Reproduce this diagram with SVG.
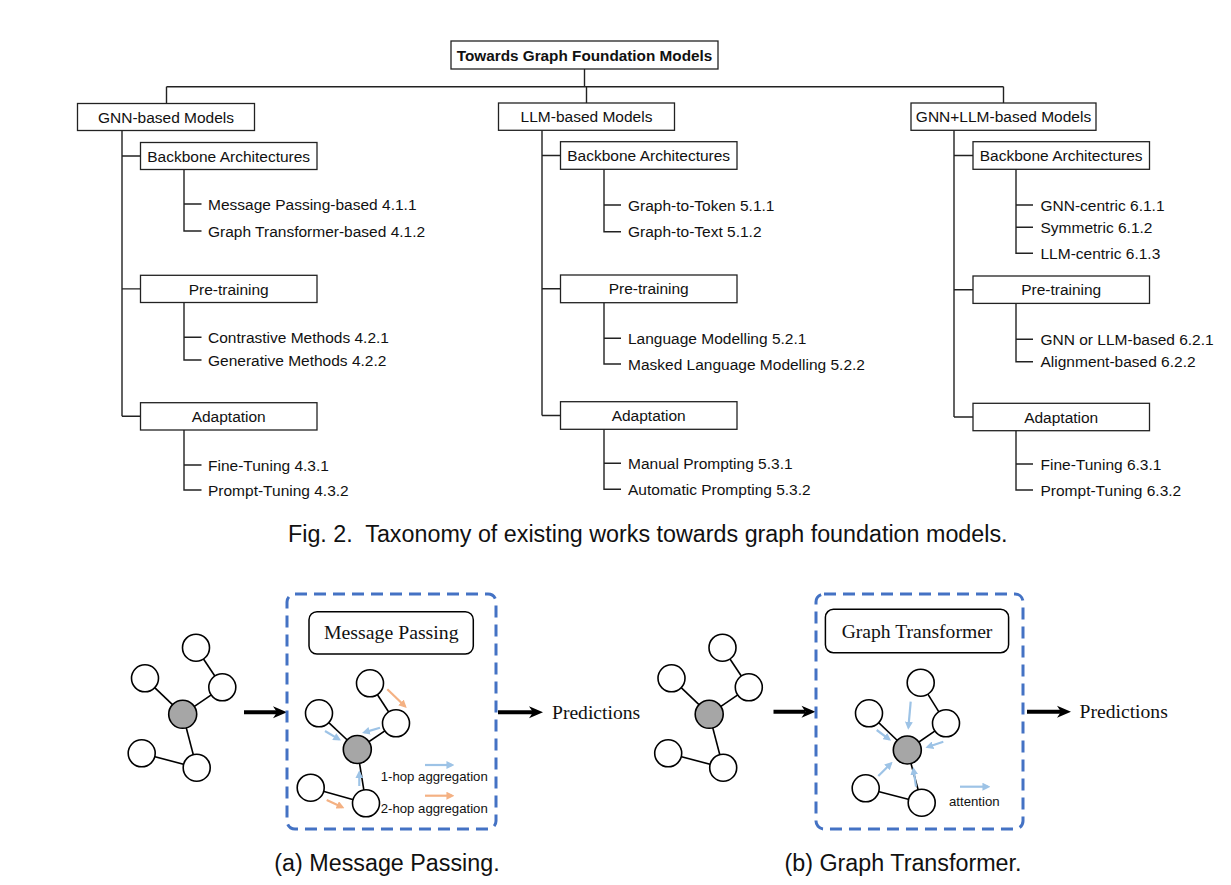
<svg xmlns="http://www.w3.org/2000/svg" width="1231" height="885" viewBox="0 0 1231 885">
<style>
.box{fill:#fff;stroke:#222;stroke-width:1.3}
.ln{fill:none;stroke:#222;stroke-width:1.4}
.t{font-family:"Liberation Sans",Arial,sans-serif;font-size:15.5px;fill:#111}
.c{text-anchor:middle}
.root{font-weight:bold;font-size:15.3px}
.cap{font-family:"Liberation Sans",Arial,sans-serif;font-size:23.3px;fill:#111}
.serif{font-family:"Liberation Serif","Times New Roman",serif;fill:#111}
.small{font-family:"Liberation Sans",Arial,sans-serif;font-size:13.2px;fill:#111}
.dash{fill:none;stroke:#4472C4;stroke-width:3;stroke-dasharray:12 7}
.node{fill:#fff;stroke:#000;stroke-width:1.6}
.hub{fill:#a6a6a6;stroke:#000;stroke-width:1.6}
.edge{stroke:#000;stroke-width:1.6}
.big{stroke:#000;stroke-width:4}
.blue{stroke:#9DC3E6;stroke-width:2.2;marker-end:url(#mb)}
.orange{stroke:#F4B183;stroke-width:2.2;marker-end:url(#mo)}
.tb{fill:#fff;stroke:#000;stroke-width:1.5}
</style>
<defs>
<marker id="mb" viewBox="0 0 10 10" refX="7" refY="5" markerWidth="3.6" markerHeight="3.6" orient="auto"><path d="M0,0 L10,5 L0,10 z" fill="#9DC3E6"/></marker>
<marker id="mo" viewBox="0 0 10 10" refX="7" refY="5" markerWidth="3.6" markerHeight="3.6" orient="auto"><path d="M0,0 L10,5 L0,10 z" fill="#F4B183"/></marker>
<path id="bighead" d="M0,0 L-14,-6 L-10,0 L-14,6 z" fill="#000"/>
</defs>
<rect width="1231" height="885" fill="#fff"/>

<!-- Taxonomy tree -->
<g id="connectors">
<path class="ln" d="M584.5,69 V86.7 M166.5,86.7 H1003.5 M166.5,86.7 V103.5 M586.5,86.7 V103 M1003.5,86.7 V103"/>
<!-- GNN column -->
<path class="ln" d="M122,130.5 V416.3 M122,156 H140.5 M122,288.9 H140.5 M122,416.3 H140.5"/>
<path class="ln" d="M184,169.5 V231 H201.5 M184,204 H201.5"/>
<path class="ln" d="M184,302.5 V360 H201.5 M184,337.3 H201.5"/>
<path class="ln" d="M184,430 V490 H201.5 M184,465 H201.5"/>
<!-- LLM column -->
<path class="ln" d="M542,130.3 V415.5 M542,155.5 H560.5 M542,288.8 H560.5 M542,415.5 H560.5"/>
<path class="ln" d="M604,169.3 V231.7 H621 M604,205 H621"/>
<path class="ln" d="M604,302.7 V364 H621 M604,338.3 H621"/>
<path class="ln" d="M604,429.3 V489.3 H621 M604,463.3 H621"/>
<!-- GNN+LLM column -->
<path class="ln" d="M954,130.3 V417 M954,155.5 H973 M954,289.7 H973 M954,417 H973"/>
<path class="ln" d="M1016,169.3 V253.3 H1033 M1016,205 H1033 M1016,227.3 H1033"/>
<path class="ln" d="M1016,303.4 V361.7 H1033 M1016,339.3 H1033"/>
<path class="ln" d="M1016,430.7 V490 H1033 M1016,464 H1033"/>
</g>

<g id="root">
<rect class="box" x="451" y="41" width="267" height="28"/>
<text class="t c root" x="584.5" y="60.5">Towards Graph Foundation Models</text>
</g>

<g id="gnn">
<rect class="box" x="77.5" y="103.5" width="177" height="27"/>
<text class="t c" x="166" y="122.5">GNN-based Models</text>
<rect class="box" x="140.5" y="142.5" width="176.5" height="27"/>
<text class="t c" x="228.7" y="161.5">Backbone Architectures</text>
<text class="t" x="208" y="209.7">Message Passing-based 4.1.1</text>
<text class="t" x="208" y="236.7">Graph Transformer-based 4.1.2</text>
<rect class="box" x="140.5" y="275.3" width="176.5" height="27.2"/>
<text class="t c" x="228.7" y="294.5">Pre-training</text>
<text class="t" x="208" y="343">Contrastive Methods 4.2.1</text>
<text class="t" x="208" y="365.7">Generative Methods 4.2.2</text>
<rect class="box" x="140.5" y="402.7" width="176.5" height="27.3"/>
<text class="t c" x="228.7" y="421.9">Adaptation</text>
<text class="t" x="208" y="470.7">Fine-Tuning 4.3.1</text>
<text class="t" x="208" y="495.7">Prompt-Tuning 4.3.2</text>
</g>

<g id="llm">
<rect class="box" x="498.5" y="103" width="176" height="27.3"/>
<text class="t c" x="586.5" y="122.3">LLM-based Models</text>
<rect class="box" x="560.5" y="141.7" width="176.5" height="27.6"/>
<text class="t c" x="648.7" y="161">Backbone Architectures</text>
<text class="t" x="628" y="210.7">Graph-to-Token 5.1.1</text>
<text class="t" x="628" y="237.4">Graph-to-Text 5.1.2</text>
<rect class="box" x="560.5" y="275" width="176.5" height="27.7"/>
<text class="t c" x="648.7" y="294.4">Pre-training</text>
<text class="t" x="628" y="344">Language Modelling 5.2.1</text>
<text class="t" x="628" y="369.7">Masked Language Modelling 5.2.2</text>
<rect class="box" x="560.5" y="401.7" width="176.5" height="27.6"/>
<text class="t c" x="648.7" y="421">Adaptation</text>
<text class="t" x="628" y="469">Manual Prompting 5.3.1</text>
<text class="t" x="628" y="495">Automatic Prompting 5.3.2</text>
</g>

<g id="gnnllm">
<rect class="box" x="911" y="103" width="185" height="27.3"/>
<text class="t c" x="1003.5" y="122.3">GNN+LLM-based Models</text>
<rect class="box" x="973" y="141.7" width="176.5" height="27.6"/>
<text class="t c" x="1061.2" y="161">Backbone Architectures</text>
<text class="t" x="1040.5" y="210.7">GNN-centric 6.1.1</text>
<text class="t" x="1040.5" y="233">Symmetric 6.1.2</text>
<text class="t" x="1040.5" y="259">LLM-centric 6.1.3</text>
<rect class="box" x="973" y="276" width="176.5" height="27.4"/>
<text class="t c" x="1061.2" y="295.3">Pre-training</text>
<text class="t" x="1040.5" y="345">GNN or LLM-based 6.2.1</text>
<text class="t" x="1040.5" y="367.4">Alignment-based 6.2.2</text>
<rect class="box" x="973" y="403.3" width="176.5" height="27.4"/>
<text class="t c" x="1061.2" y="422.6">Adaptation</text>
<text class="t" x="1040.5" y="469.7">Fine-Tuning 6.3.1</text>
<text class="t" x="1040.5" y="495.7">Prompt-Tuning 6.3.2</text>
</g>

<text class="cap" x="288" y="541.7" font-size="23.6">Fig. 2.&#160; Taxonomy of existing works towards graph foundation models.</text>

<!-- Panel (a) -->
<g id="panel-a">
<g id="a-input">
<line class="edge" x1="196" y1="647.7" x2="222.3" y2="687.3"/>
<line class="edge" x1="145" y1="678.3" x2="182.7" y2="714.3"/>
<line class="edge" x1="222.3" y1="687.3" x2="182.7" y2="714.3"/>
<line class="edge" x1="182.7" y1="714.3" x2="196.7" y2="767.7"/>
<line class="edge" x1="141.7" y1="753.3" x2="196.7" y2="767.7"/>
<circle class="node" cx="196" cy="647.7" r="13.5"/>
<circle class="node" cx="145" cy="678.3" r="13.5"/>
<circle class="node" cx="222.3" cy="687.3" r="13.5"/>
<circle class="hub" cx="182.7" cy="714.3" r="14"/>
<circle class="node" cx="141.7" cy="753.3" r="13.5"/>
<circle class="node" cx="196.7" cy="767.7" r="13.5"/>
</g>
<g id="a-arrow-in">
<line class="big" x1="244" y1="712.3" x2="277" y2="712.3"/>
<use href="#bighead" x="287" y="712.3"/>
</g>
<g id="a-box">
<rect class="dash" x="287" y="594" width="209" height="235" rx="8"/>
<rect class="tb" x="309" y="611.7" width="164.3" height="42.3" rx="8"/>
<text class="serif c" x="391.3" y="638.8" font-size="19.8">Message Passing</text>
<line class="edge" x1="370" y1="683.3" x2="396" y2="723.3"/>
<line class="edge" x1="319" y1="713.3" x2="357.3" y2="749.5"/>
<line class="edge" x1="396" y1="723.3" x2="357.3" y2="749.5"/>
<line class="edge" x1="357.3" y1="749.5" x2="366" y2="803.3"/>
<line class="edge" x1="310.7" y1="787.7" x2="366" y2="803.3"/>
<circle class="node" cx="370" cy="683.3" r="13.5"/>
<circle class="node" cx="319" cy="713.3" r="13.5"/>
<circle class="node" cx="396" cy="723.3" r="13.5"/>
<circle class="hub" cx="357.3" cy="749.5" r="14"/>
<circle class="node" cx="310.7" cy="787.7" r="13.5"/>
<circle class="node" cx="366" cy="803.3" r="13.5"/>
<line class="orange" x1="387.3" y1="689.3" x2="405" y2="706.3"/>
<line class="blue" x1="380" y1="727.7" x2="364.3" y2="732.4"/>
<line class="blue" x1="325" y1="731" x2="339" y2="739.4"/>
<line class="blue" x1="359.3" y1="786" x2="359.3" y2="772.7"/>
<line class="orange" x1="326.7" y1="800" x2="342.3" y2="807.2"/>
<line class="blue" x1="425" y1="765" x2="452" y2="765"/>
<text class="small" x="380.7" y="781">1-hop aggregation</text>
<line class="orange" x1="425" y1="795.7" x2="452" y2="795.7"/>
<text class="small" x="380.7" y="813">2-hop aggregation</text>
</g>
<g id="a-out">
<line class="big" x1="498" y1="712.3" x2="533" y2="712.3"/>
<use href="#bighead" x="543" y="712.3"/>
<text class="serif" x="552" y="718.5" font-size="19.6">Predictions</text>
</g>
<text class="cap c" x="387" y="871">(a) Message Passing.</text>
</g>

<!-- Panel (b) -->
<g id="panel-b">
<g id="b-input">
<line class="edge" x1="722.5" y1="647.7" x2="748.8" y2="687.3"/>
<line class="edge" x1="671.5" y1="678.3" x2="709.2" y2="714.3"/>
<line class="edge" x1="748.8" y1="687.3" x2="709.2" y2="714.3"/>
<line class="edge" x1="709.2" y1="714.3" x2="723.2" y2="767.7"/>
<line class="edge" x1="668.2" y1="753.3" x2="723.2" y2="767.7"/>
<circle class="node" cx="722.5" cy="647.7" r="13.5"/>
<circle class="node" cx="671.5" cy="678.3" r="13.5"/>
<circle class="node" cx="748.8" cy="687.3" r="13.5"/>
<circle class="hub" cx="709.2" cy="714.3" r="14"/>
<circle class="node" cx="668.2" cy="753.3" r="13.5"/>
<circle class="node" cx="723.2" cy="767.7" r="13.5"/>
</g>
<g id="b-arrow-in">
<line class="big" x1="773.5" y1="711.7" x2="805.5" y2="711.7"/>
<use href="#bighead" x="815.5" y="711.7"/>
</g>
<g id="b-box">
<rect class="dash" x="816" y="594" width="207" height="235" rx="8"/>
<rect class="tb" x="825.4" y="609.3" width="183.2" height="43.4" rx="8"/>
<text class="serif c" x="917" y="637.5" font-size="19.6">Graph Transformer</text>
<line class="edge" x1="920.7" y1="682.7" x2="946" y2="723.3"/>
<line class="edge" x1="869" y1="713.3" x2="907.3" y2="750"/>
<line class="edge" x1="946" y1="723.3" x2="907.3" y2="750"/>
<line class="edge" x1="907.3" y1="750" x2="921.7" y2="802.7"/>
<line class="edge" x1="865.7" y1="788.3" x2="921.7" y2="802.7"/>
<circle class="node" cx="920.7" cy="682.7" r="13.5"/>
<circle class="node" cx="869" cy="713.3" r="13.5"/>
<circle class="node" cx="946" cy="723.3" r="13.5"/>
<circle class="hub" cx="907.3" cy="750" r="14"/>
<circle class="node" cx="865.7" cy="788.3" r="13.5"/>
<circle class="node" cx="921.7" cy="802.7" r="13.5"/>
<line class="blue" x1="910.7" y1="701.7" x2="908.4" y2="727.3"/>
<line class="blue" x1="876.7" y1="730" x2="889.2" y2="739.4"/>
<line class="blue" x1="943.3" y1="741.7" x2="927.7" y2="747"/>
<line class="blue" x1="878.3" y1="776" x2="890.9" y2="763.5"/>
<line class="blue" x1="916" y1="786.7" x2="913.5" y2="769.3"/>
<line class="blue" x1="960" y1="786.7" x2="988" y2="786.7"/>
<text class="small" x="949" y="806">attention</text>
</g>
<g id="b-out">
<line class="big" x1="1027" y1="711.7" x2="1061" y2="711.7"/>
<use href="#bighead" x="1071" y="711.7"/>
<text class="serif" x="1079.6" y="718" font-size="19.6">Predictions</text>
</g>
<text class="cap c" x="903" y="871">(b) Graph Transformer.</text>
</g>
</svg>
